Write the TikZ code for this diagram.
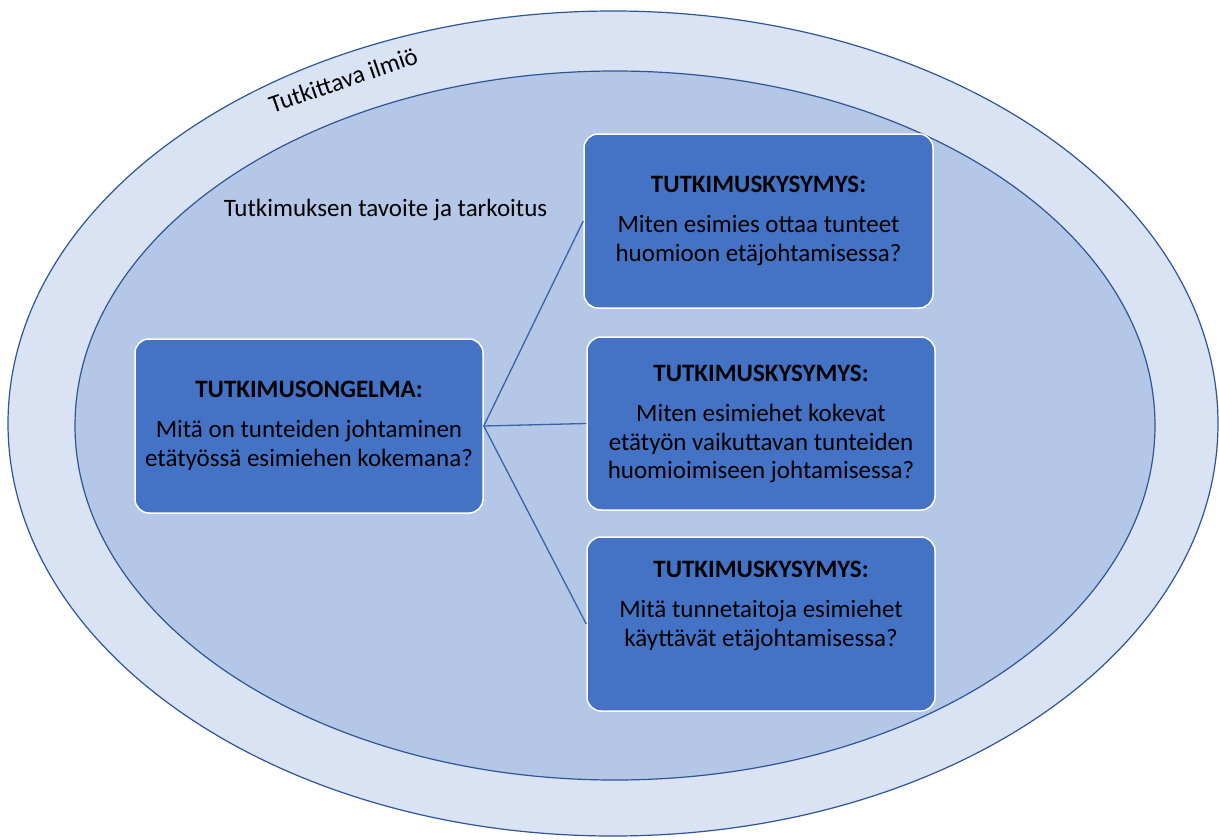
\documentclass[tikz,border=0pt]{standalone}
\usepackage{fontspec}
\setmainfont{Carlito}
\definecolor{outerc}{HTML}{DAE3F3}
\definecolor{innerc}{HTML}{B4C7E7}
\definecolor{boxc}{HTML}{4472C4}
\definecolor{edgec}{HTML}{2F5597}
\definecolor{linkc}{HTML}{3A62A8}
\begin{document}
\begin{tikzpicture}[x=1pt,y=-1pt,
  ell/.style={draw=edgec, line width=1.2pt},
  qbox/.style={rectangle, rounded corners=14pt, fill=boxc, draw=white, line width=1.5pt, inner sep=0pt},
  qtext/.style={anchor=north, inner sep=0pt, align=center, text=black, font=\fontsize{25}{28.5}\selectfont},
  plain/.style={inner sep=0pt, text=black, font=\fontsize{25}{29}\selectfont},
  link/.style={draw=linkc, line width=1.3pt}]
\useasboundingbox (0,0) rectangle (1219,839);
\fill[white] (0,0) rectangle (1219,839);
\draw[ell, fill=outerc] (613,423.5) ellipse [x radius=605, y radius=412.5];
\draw[ell, fill=innerc] (615,425.5) ellipse [x radius=540, y radius=354.5];

\node[plain, anchor=base, rotate=19] (ilmio) at (346,88) {Tutkittava ilmiö};
\node[plain, anchor=base] (tavoite) at (385.5,216) {Tutkimuksen tavoite ja tarkoitus};

\node[qbox, minimum width=348pt, minimum height=174pt] (ongelma) at (309,426) {};
\node[qbox, minimum width=349pt, minimum height=174pt] (q1) at (758.5,221) {};
\node[qbox, minimum width=348pt, minimum height=173pt] (q2) at (761,423.5) {};
\node[qbox, minimum width=348pt, minimum height=174pt] (q3) at (761,624) {};

\coordinate (hub) at (ongelma.east);
\draw[link] (hub) -- (q1.west);
\draw[link] (hub) -- (q2.west);
\draw[link] (hub) -- (q3.west);

\node[qtext] (t0) at (309,377.7) {\strut\textbf{TUTKIMUSONGELMA:}\\[11.5pt]Mitä on tunteiden johtaminen\\etätyössä esimiehen kokemana?};
\node[qtext] (t1) at (758.5,172.7) {\strut\textbf{TUTKIMUSKYSYMYS:}\\[11.5pt]Miten esimies ottaa tunteet\\huomioon etäjohtamisessa?};
\node[qtext] (t2) at (761,361.7) {\strut\textbf{TUTKIMUSKYSYMYS:}\\[11.5pt]Miten esimiehet kokevat\\etätyön vaikuttavan tunteiden\\huomioimiseen johtamisessa?};
\node[qtext] (t3) at (761,557.7) {\strut\textbf{TUTKIMUSKYSYMYS:}\\[11.5pt]Mitä tunnetaitoja esimiehet\\käyttävät etäjohtamisessa?};
\end{tikzpicture}
\end{document}
